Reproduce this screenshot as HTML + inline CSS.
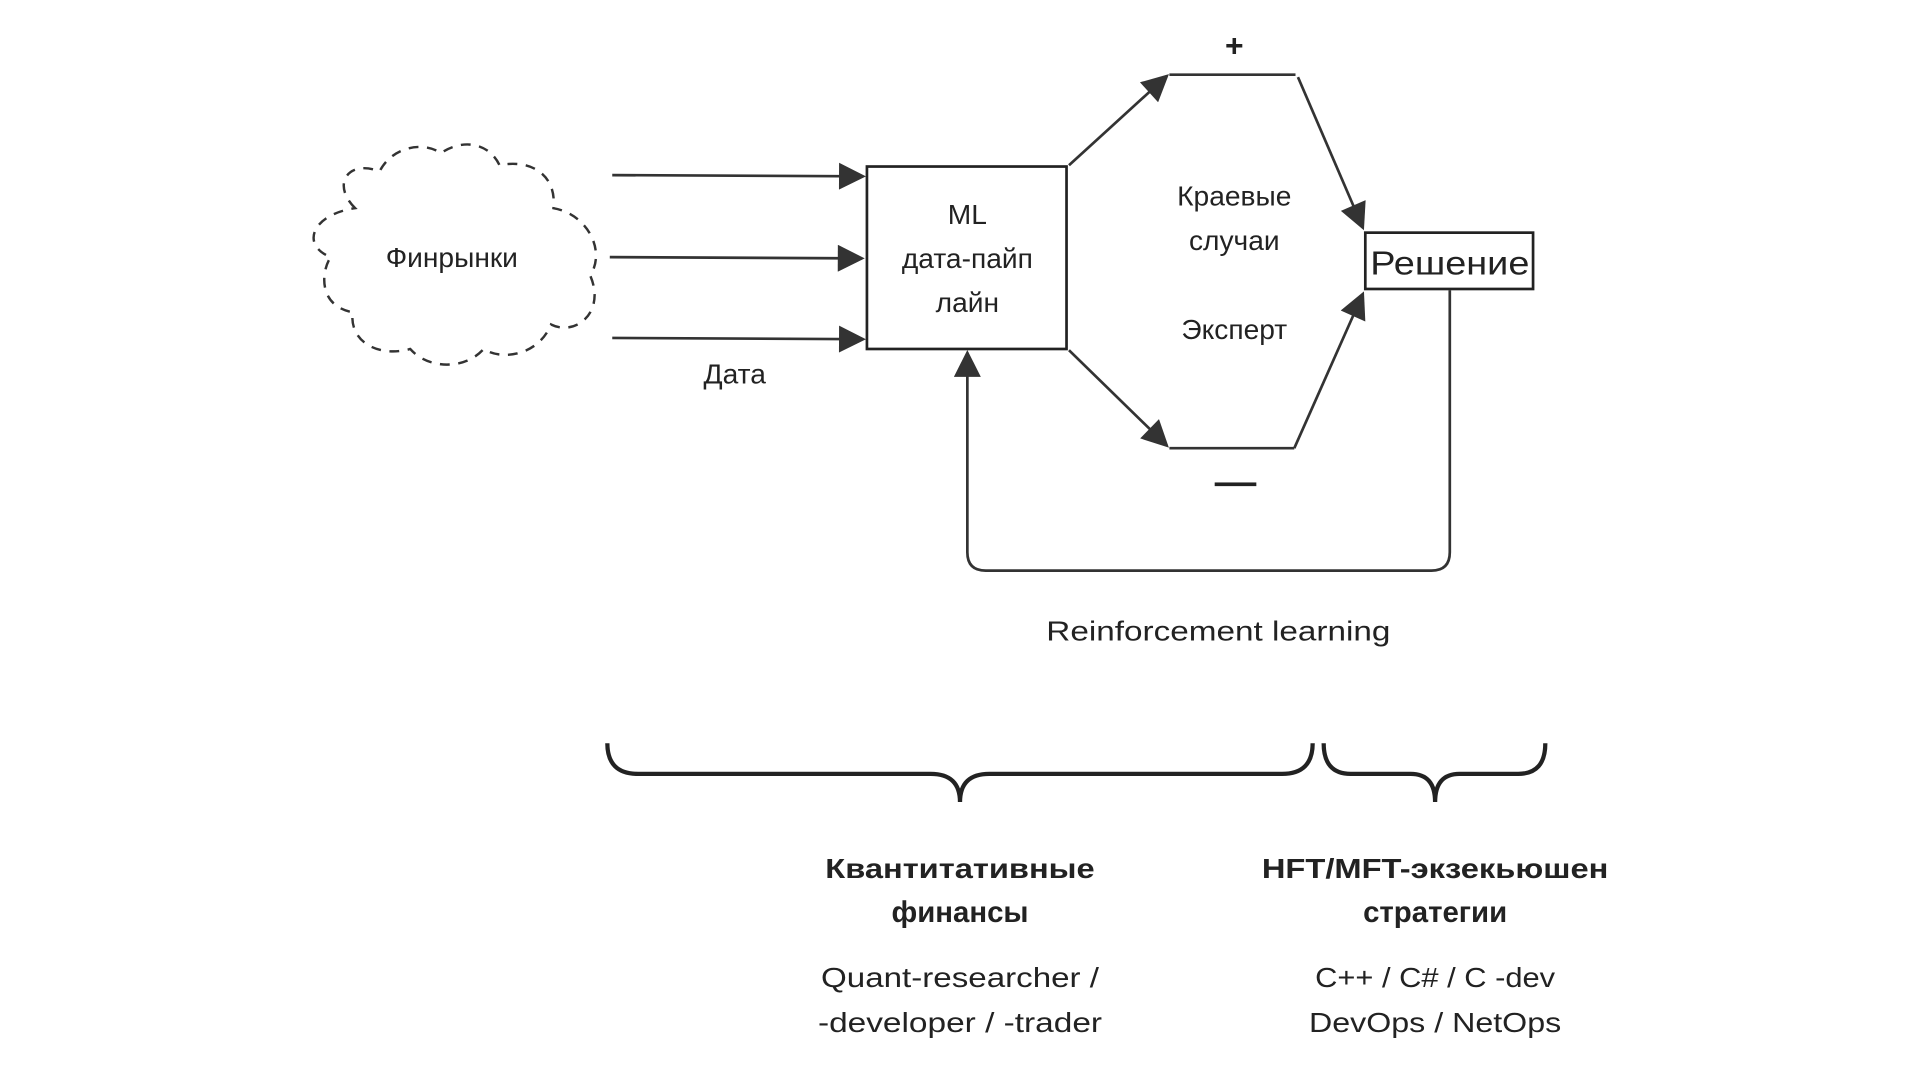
<!DOCTYPE html>
<html><head><meta charset="utf-8"><style>html,body{margin:0;padding:0;background:#fff;}svg{display:block}</style></head>
<body>
<svg width="1920" height="1080" viewBox="0 0 1568 882" preserveAspectRatio="none" xmlns="http://www.w3.org/2000/svg" font-family="'Liberation Sans','Noto Sans CJK SC',sans-serif" fill="#222">
<defs>
<marker id="b" viewBox="0 0 10 10" refX="9" refY="5" markerWidth="32" markerHeight="22" markerUnits="userSpaceOnUse" orient="auto"><path d="M0,0 L10,5 L0,10 Z" fill="#333"/></marker>
</defs>
<!-- cloud -->
<path d="M290,170 C270,150 285,130 310,140 C320,120 345,115 360,125 C380,112 400,118 408,135 C430,130 455,140 452,170 C480,175 495,205 482,225 C495,255 470,275 450,265 C440,290 410,295 395,285 C380,302 350,302 335,285 C310,292 285,280 288,255 C260,250 262,222 270,210 C245,200 255,175 290,170 Z" fill="none" stroke="#333" stroke-width="2" stroke-dasharray="8,7"/>
<text x="369" y="218" font-size="23" text-anchor="middle">Финрынки</text>
<g stroke="#333" stroke-width="2.2" fill="none">
<line x1="500" y1="143" x2="705" y2="144" marker-end="url(#b)"/>
<line x1="498" y1="210" x2="704" y2="211" marker-end="url(#b)"/>
<line x1="500" y1="276" x2="705" y2="277" marker-end="url(#b)"/>
</g>
<text x="600" y="313" font-size="23" text-anchor="middle">Дата</text>
<rect x="708" y="136" width="163" height="149" fill="none" stroke="#222" stroke-width="2.2"/>
<text x="790" y="183" font-size="23" text-anchor="middle">ML</text>
<text x="790" y="219" font-size="23" text-anchor="middle">дата-пайп</text>
<text x="790" y="255" font-size="23" text-anchor="middle">лайн</text>
<g stroke="#333" stroke-width="2.2" fill="none">
<line x1="873" y1="135" x2="953" y2="62" marker-end="url(#b)"/>
<line x1="955" y1="61" x2="1058" y2="61"/>
<line x1="1060" y1="63" x2="1113" y2="186" marker-end="url(#b)"/>
<line x1="873" y1="286" x2="953" y2="364" marker-end="url(#b)"/>
<line x1="955" y1="366" x2="1057" y2="366"/>
<line x1="1057" y1="366" x2="1113" y2="240" marker-end="url(#b)"/>
</g>
<text x="1008" y="46" font-size="26" font-weight="bold" text-anchor="middle">+</text>
<rect x="992" y="394" width="34" height="3" fill="#222"/>
<text x="1008" y="168" font-size="23" text-anchor="middle">Краевые</text>
<text x="1008" y="204" font-size="23" text-anchor="middle">случаи</text>
<text x="1008" y="277" font-size="23" text-anchor="middle">Эксперт</text>
<rect x="1115" y="190" width="137" height="46" fill="#fff" stroke="#222" stroke-width="2.2"/>
<text x="1184" y="224" font-size="27" text-anchor="middle" textLength="130" lengthAdjust="spacingAndGlyphs">Решение</text>
<path d="M1184,237 V451 Q1184,466 1169,466 H805 Q790,466 790,451 V288" fill="none" stroke="#333" stroke-width="2.2" marker-end="url(#b)"/>
<text x="995" y="523" font-size="23" text-anchor="middle" textLength="281" lengthAdjust="spacingAndGlyphs">Reinforcement learning</text>
<g fill="none" stroke="#222" stroke-width="3.5">
<path d="M496,607 Q496,632 521,632 H760 Q784,632 784,655 Q784,632 808,632 H1047 Q1072,632 1072,607"/>
<path d="M1081,607 Q1081,632 1103,632 H1152 Q1172,632 1172,655 Q1172,632 1192,632 H1240 Q1262,632 1262,607"/>
</g>
<g font-size="23" text-anchor="middle">
<text x="784" y="717" font-weight="bold" textLength="220" lengthAdjust="spacingAndGlyphs">Квантитативные</text>
<text x="784" y="753" font-weight="bold" font-size="24">финансы</text>
<text x="1172" y="717" font-weight="bold" textLength="283" lengthAdjust="spacingAndGlyphs">HFT/MFT-экзекьюшен</text>
<text x="1172" y="753" font-weight="bold" font-size="24">стратегии</text>
<text x="784" y="806" textLength="227" lengthAdjust="spacingAndGlyphs">Quant-researcher /</text>
<text x="784" y="843" textLength="232" lengthAdjust="spacingAndGlyphs">-developer / -trader</text>
<text x="1172" y="806" textLength="196" lengthAdjust="spacingAndGlyphs">C++ / C# / C -dev</text>
<text x="1172" y="843" textLength="206" lengthAdjust="spacingAndGlyphs">DevOps / NetOps</text>
</g>
</svg>
</body></html>
